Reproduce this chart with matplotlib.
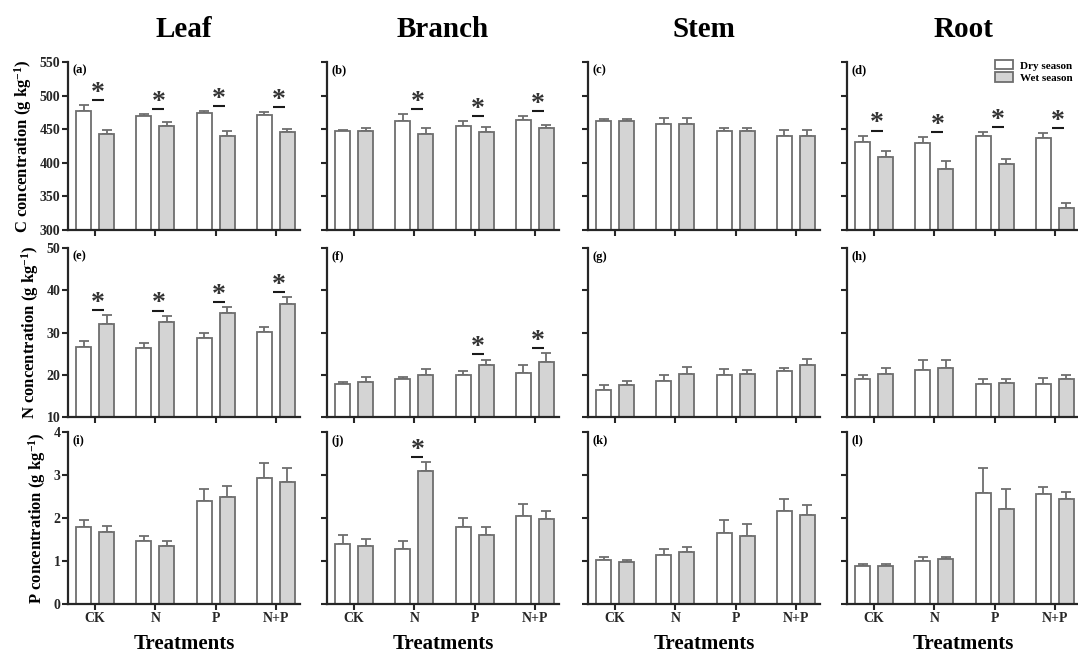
import matplotlib.pyplot as plt
import numpy as np

#====================================
# Data

treatments = ["CK", "N", "P", "N+P"]
organs = ["Leaf", "Branch", "Stem", "Root"]
seasons = ["Dry season", "Wet season"]
panel_tags = ["a", "b", "c", "d", "e", "f", "g", "h", "i", "j", "k", "l"]

# rows = Leaf, Branch, Stem, Root ; columns = CK, N, P, N+P
C_dry = [[477, 469, 474, 471.5], [447.5, 462, 455.5, 463], [462, 457, 447.5, 440], [430.5, 430, 440, 437.5]]
C_dry_se = [[9, 4, 3, 4.5], [0.8, 11, 6, 6], [3.5, 9, 5, 9], [10, 8, 6, 6.5]]
C_wet = [[443.5, 455, 440.5, 446.5], [447.5, 442.5, 446, 451.5], [462, 457, 447.5, 440], [408, 391, 398, 332]]
C_wet_se = [[5, 6, 7, 4.5], [4, 9, 7, 5], [3.5, 9, 5, 9], [9, 11, 8, 8]]
C_sig = [[1, 1, 1, 1], [0, 1, 1, 1], [0, 0, 0, 0], [1, 1, 1, 1]]

N_dry = [[26.6, 26.4, 28.8, 30.2], [17.8, 19.1, 20.0, 20.5], [16.4, 18.5, 20.0, 20.9], [19.1, 21.2, 17.9, 17.9]]
N_dry_se = [[1.3, 1.1, 1.1, 1.1], [0.6, 0.3, 0.9, 1.9], [1.2, 1.5, 1.4, 0.6], [0.9, 2.3, 1.1, 1.3]]
N_wet = [[32.1, 32.6, 34.7, 36.7], [18.2, 20.0, 22.2, 23.1], [17.6, 20.2, 20.2, 22.3], [20.2, 21.7, 18.0, 19.0]]
N_wet_se = [[2.0, 1.4, 1.4, 1.6], [1.2, 1.3, 1.4, 2.0], [0.9, 1.6, 1.0, 1.4], [1.5, 1.8, 1.0, 1.0]]
N_sig = [[1, 1, 1, 1], [0, 0, 1, 1], [0, 0, 0, 0], [0, 0, 0, 0]]

P_dry = [[1.79, 1.46, 2.39, 2.92], [1.39, 1.29, 1.78, 2.04], [1.02, 1.15, 1.65, 2.17], [0.89, 1.00, 2.57, 2.55]]
P_dry_se = [[0.17, 0.12, 0.29, 0.36], [0.22, 0.18, 0.22, 0.28], [0.07, 0.14, 0.31, 0.27], [0.04, 0.10, 0.60, 0.18]]
P_wet = [[1.67, 1.34, 2.48, 2.83], [1.36, 3.10, 1.60, 1.98], [0.97, 1.20, 1.57, 2.07], [0.89, 1.04, 2.22, 2.45]]
P_wet_se = [[0.15, 0.12, 0.27, 0.33], [0.15, 0.20, 0.18, 0.18], [0.06, 0.12, 0.28, 0.23], [0.05, 0.06, 0.45, 0.16]]
P_sig = [[0, 0, 0, 0], [0, 1, 0, 0], [0, 0, 0, 0], [0, 0, 0, 0]]

elements = ["C", "N", "P"]
y_limits = [(300, 550), (10, 50), (0, 4)]
y_ticks = [[300, 350, 400, 450, 500, 550], [10, 20, 30, 40, 50], [0, 1, 2, 3, 4]]

#====================================
# Style

SERIF = ["Liberation Serif", "DejaVu Serif"]
plt.rcParams['font.family'] = SERIF
plt.rcParams['font.weight'] = 'bold'
plt.rcParams['axes.linewidth'] = 1.6
plt.rcParams['mathtext.fontset'] = 'custom'
plt.rcParams['mathtext.rm'] = 'Liberation Serif:bold'
plt.rcParams['mathtext.it'] = 'Liberation Serif:bold'
plt.rcParams['mathtext.bf'] = 'Liberation Serif:bold'

EDGE = "#6e6e6e"
DRY_COLOR = "white"
WET_COLOR = "#d4d4d4"
AXIS_COLOR = "#262626"

bar_w = 0.25
offset = 0.19

#====================================
# Figure

fig = plt.figure(figsize=(10.78, 6.6), dpi=100)

lefts = [68, 327, 588, 847]
rows = [(62, 230), (248, 417), (432, 604)]
W, H = 1078.0, 660.0
ax_w = 232

data = [(C_dry, C_dry_se, C_wet, C_wet_se, C_sig),
        (N_dry, N_dry_se, N_wet, N_wet_se, N_sig),
        (P_dry, P_dry_se, P_wet, P_wet_se, P_sig)]

x = np.arange(len(treatments))
k = 0
for r in range(3):
    dry, dry_se, wet, wet_se, sig = data[r]
    lo, hi = y_limits[r]
    span = hi - lo
    top, bot = rows[r]
    for c in range(4):
        ax = fig.add_axes([lefts[c] / W, 1 - bot / H, ax_w / W, (bot - top) / H])
        d = np.array(dry[c]); ds = np.array(dry_se[c])
        w = np.array(wet[c]); ws = np.array(wet_se[c])

        b1 = ax.bar(x - offset, d - lo, bar_w, bottom=lo, color=DRY_COLOR, edgecolor=EDGE, linewidth=1.3, zorder=2)
        b2 = ax.bar(x + offset, w - lo, bar_w, bottom=lo, color=WET_COLOR, edgecolor=EDGE, linewidth=1.3, zorder=2)
        ax.errorbar(x - offset, d, yerr=[np.zeros(4), ds], fmt='none', ecolor=EDGE, elinewidth=1.3, capsize=3.5, capthick=1.3, zorder=1)
        ax.errorbar(x + offset, w, yerr=[np.zeros(4), ws], fmt='none', ecolor=EDGE, elinewidth=1.3, capsize=3.5, capthick=1.3, zorder=1)

        # significance marks
        for i in range(4):
            if sig[c][i]:
                yl = max(d[i] + ds[i], w[i] + ws[i]) + 0.03 * span
                ax.plot([i - 0.05, i + 0.15], [yl, yl], color="#1a1a1a", lw=1.5, solid_capstyle='butt')
                ax.text(i + 0.05, yl - 0.035 * span, "*", ha='center', va='bottom', fontsize=20, color="#333333")

        ax.set_ylim(lo, hi)
        ax.set_xlim(-0.45, 3.4)
        ax.set_yticks(y_ticks[r])
        ax.set_xticks(x)
        for s in ['top', 'right']:
            ax.spines[s].set_visible(False)
        for s in ['left', 'bottom']:
            ax.spines[s].set_color(AXIS_COLOR)
        ax.tick_params(direction='out', length=4, width=1.5, colors=AXIS_COLOR, labelsize=10, pad=1.5)

        if c == 0:
            ax.set_ylabel(elements[r] + r" concentration (g kg$^{-1}$)", fontsize=12, fontweight='bold', labelpad=4)
        else:
            ax.set_yticklabels([])
        if r == 2:
            ax.set_xticklabels(treatments, fontsize=10, fontweight='bold')
            ax.set_xlabel("Treatments", fontsize=15, fontweight='bold', labelpad=7)
        else:
            ax.set_xticklabels([])
        if r == 0:
            ax.set_title(organs[c], fontsize=21, fontweight='bold', pad=18)

        ax.text(0.02, 0.985, "(" + panel_tags[k] + ")", transform=ax.transAxes, ha='left', va='top', fontsize=9, fontweight='bold')
        k += 1

        if r == 0 and c == 3:
            ax.legend([b1, b2], seasons, loc='upper right', bbox_to_anchor=(1.0, 1.05), frameon=False,
                      prop={'family': SERIF, 'weight': 'bold', 'size': 8}, handlelength=1.6, handleheight=0.9,
                      labelspacing=0.15, borderaxespad=0.2, handletextpad=0.6)

fig.savefig("out.png", dpi=100)
